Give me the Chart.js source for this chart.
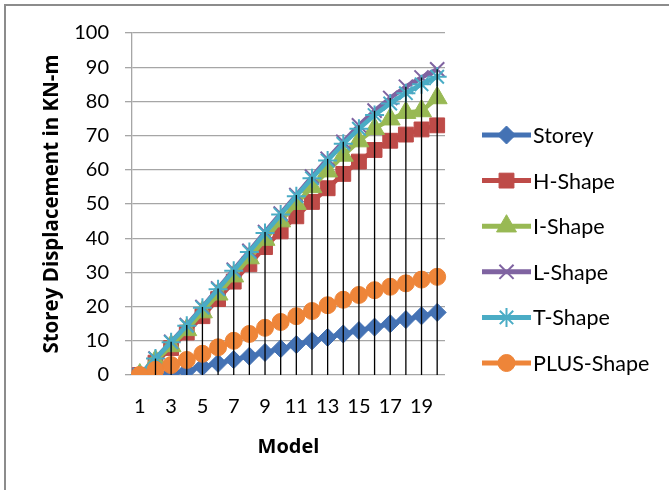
<!DOCTYPE html>
<html>
<head>
<meta charset="utf-8">
<script src="https://cdn.jsdelivr.net/npm/chart.js@4.4.0/dist/chart.umd.min.js"></script>
<style>
  html, body { margin: 0; padding: 0; background: #fff; }
  #wrap { position: relative; width: 669px; height: 490px; overflow: hidden; }
  #frame { position: absolute; left: 4px; top: 4px; width: 800px; height: 600px;
           border-left: 2px solid #8c8c8c; border-top: 2px solid #8c8c8c; pointer-events: none; }
</style>
</head>
<body>
<div id="wrap">
  <canvas id="chart" width="669" height="490"></canvas>
  <div id="frame"></div>
</div>
<script>
const categories = ["1", "2", "3", "4", "5", "6", "7", "8", "9", "10",
                    "11", "12", "13", "14", "15", "16", "17", "18", "19", "20"];

const storey    = [0, 0, 0.5, 1.2, 2.4, 3.4, 4.5, 5.5, 6.6, 7.7, 8.9, 10, 11, 12, 13, 14, 15, 16.2, 17.3, 18.3];
const hShape    = [0, 3.6, 7.9, 12.4, 17.2, 22.2, 27.3, 32.4, 37.4, 42, 46.4, 50.6, 54.6, 58.8, 62.4, 65.8, 68.5, 70.3, 71.8, 73];
const iShape    = [0, 4.1, 8.5, 13.2, 18.4, 23.6, 28.9, 34.2, 39.6, 45, 50.1, 55, 59.6, 64.2, 68.4, 72, 74.8, 76.7, 77.2, 81];
const lShape    = [0, 4.8, 9.7, 14.6, 19.9, 25.3, 30.8, 36.3, 41.8, 47.2, 52.6, 58, 63.2, 68.2, 73, 77.3, 81, 84.3, 87, 89.4];
const tShape    = [0, 4.8, 9.6, 14.4, 19.7, 25.1, 30.5, 36, 41.5, 46.9, 52.3, 57.5, 62.7, 67.6, 72, 76, 79.4, 82.4, 85, 87.2];
const plusShape = [0, 1.5, 2.9, 4.4, 6.2, 8.1, 10, 12, 13.8, 15.5, 17.2, 18.7, 20.4, 22, 23.4, 24.8, 25.8, 26.8, 27.9, 28.7];

const yTicks = [0, 10, 20, 30, 40, 50, 60, 70, 80, 90, 100];

const FONT = "Lato";
const TITLE_FONT = "Open Sans";

function series(label, data, color, style, radius, i) {
  return {
    label: label,
    data: data,
    borderColor: color,
    backgroundColor: color,
    borderWidth: 4.5,
    tension: 0,
    pointStyle: style,
    pointRadius: radius,
    pointHoverRadius: radius,
    pointBorderWidth: (style === "crossRot" || style === "star") ? 2 : 1,
    pointBackgroundColor: color,
    pointBorderColor: color,
    order: 10 - i
  };
}

// vertical black lines from the highest point down to the axis
const dropLines = {
  id: "dropLines",
  afterDatasetsDraw(chart) {
    const { ctx, scales } = chart;
    const sets = chart.data.datasets;
    ctx.save();
    ctx.strokeStyle = "#000";
    ctx.lineWidth = 1.3;
    categories.forEach((c, i) => {
      const top = Math.max(...sets.map(d => d.data[i]));
      const x = scales.x.getPixelForValue(i);
      ctx.beginPath();
      ctx.moveTo(x, scales.y.getPixelForValue(top));
      ctx.lineTo(x, scales.y.getPixelForValue(0));
      ctx.stroke();
    });
    ctx.restore();
  }
};

// Excel-like legend: line with marker in the middle
const sideLegend = {
  id: "sideLegend",
  afterDraw(chart) {
    const ctx = chart.ctx;
    const x0 = 482, x1 = 531, top = 135, gap = 45.6;
    ctx.save();
    chart.data.datasets.forEach((d, i) => {
      const y = top + i * gap;
      ctx.strokeStyle = d.borderColor;
      ctx.lineWidth = 5;
      ctx.lineCap = "butt";
      ctx.beginPath();
      ctx.moveTo(x0, y);
      ctx.lineTo(x1, y);
      ctx.stroke();
      ctx.fillStyle = d.backgroundColor;
      ctx.strokeStyle = d.borderColor;
      ctx.lineWidth = d.pointBorderWidth;
      Chart.helpers.drawPoint(ctx, {
        pointStyle: d.pointStyle, radius: d.pointRadius, borderWidth: d.pointBorderWidth, rotation: 0
      }, (x0 + x1) / 2, y);
      ctx.fillStyle = "#000";
      ctx.font = "21.5px " + FONT;
      ctx.textAlign = "left";
      ctx.textBaseline = "middle";
      ctx.fillText(d.label, x1 + 2, y + 1);
    });
    ctx.restore();
  }
};

new Chart(document.getElementById("chart"), {
  type: "line",
  data: {
    labels: categories,
    datasets: [
      series("Storey", storey, "#4472B4", "rectRot", 9, 0),
      series("H-Shape", hShape, "#BE4B48", "rect", 10.5, 1),
      series("I-Shape", iShape, "#98B954", "triangle", 11.5, 2),
      series("L-Shape", lShape, "#7F63A1", "crossRot", 10, 3),
      series("T-Shape", tShape, "#4AACC5", "star", 9.5, 4),
      series("PLUS-Shape", plusShape, "#EE8539", "circle", 8.5, 5)
    ]
  },
  options: {
    responsive: false,
    animation: false,
    layout: { padding: { left: 0, right: 224, top: 33, bottom: 0 } },
    plugins: {
      legend: { display: false },
      tooltip: { enabled: false }
    },
    scales: {
      x: {
        offset: true,
        grid: { display: false, drawTicks: false },
        border: { display: false },
        ticks: {
          autoSkip: false,
          maxRotation: 0,
          padding: 20,
          color: "#000",
          font: { family: FONT, size: 20 },
          callback: function (v, i) { return i % 2 === 0 ? categories[i] : ""; }
        },
        title: {
          display: true,
          text: "Model",
          color: "#000",
          font: { family: TITLE_FONT, size: 20, weight: "bold" },
          padding: { top: 0, bottom: 31 }
        },
        afterFit(scale) { scale.height = 115; }
      },
      y: {
        min: 0,
        max: 100,
        afterBuildTicks(scale) { scale.ticks = yTicks.map(v => ({ value: v })); },
        grid: { color: "#a6a6a6", lineWidth: 1.3, tickLength: 7, drawTicks: true },
        border: { display: true, color: "#a6a6a6", width: 1.3 },
        ticks: {
          padding: 16,
          color: "#000",
          font: { family: FONT, size: 20 }
        },
        title: {
          display: true,
          text: "Storey Displacement in KN-m",
          color: "#000",
          font: { family: TITLE_FONT, size: 20.5, weight: "bold" },
          padding: { top: 40, bottom: 0 }
        },
        afterFit(scale) { scale.width = 132; }
      }
    }
  },
  plugins: [dropLines, sideLegend]
});
</script>
</body>
</html>
